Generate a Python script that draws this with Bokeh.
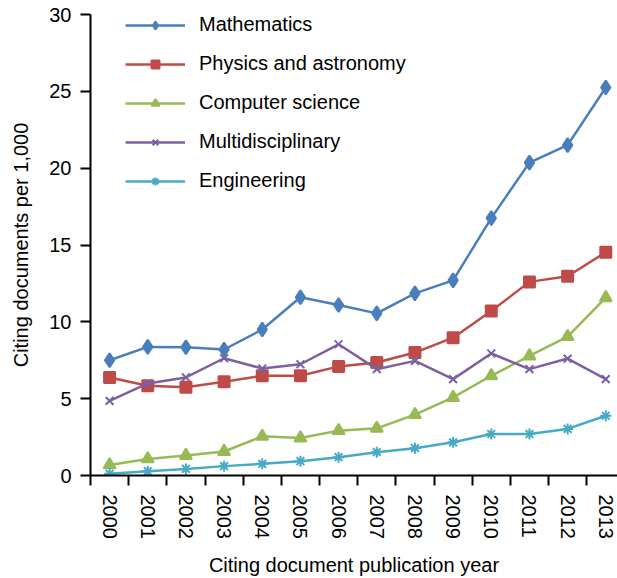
from bokeh.plotting import figure
from bokeh.models import FixedTicker, Range1d, Legend
from bokeh.embed import file_html
from bokeh.resources import INLINE

years = ["2000", "2001", "2002", "2003", "2004", "2005", "2006",
         "2007", "2008", "2009", "2010", "2011", "2012", "2013"]
mathematics = [7.5, 8.37, 8.35, 8.2, 9.5, 11.6, 11.1, 10.55, 11.85, 12.7, 16.75, 20.36, 21.5, 25.25]
physics = [6.38, 5.84, 5.75, 6.1, 6.49, 6.49, 7.1, 7.35, 8.0, 8.97, 10.7, 12.6, 12.97, 14.53]
computer = [0.69, 1.08, 1.3, 1.56, 2.55, 2.44, 2.92, 3.07, 3.96, 5.08, 6.49, 7.78, 9.04, 11.57]
multidisc = [4.86, 5.99, 6.38, 7.63, 6.96, 7.24, 8.54, 6.92, 7.46, 6.27, 7.94, 6.92, 7.61, 6.27]
engineering = [0.11, 0.28, 0.43, 0.61, 0.76, 0.93, 1.19, 1.52, 1.78, 2.16, 2.7, 2.7, 3.03, 3.89]
y_ticks = [0, 5, 10, 15, 20, 25, 30]

FONT = "Liberation Sans"
FS = "20px"

xs = list(range(len(years)))

p = figure(width=617, height=578, output_backend="svg", toolbar_location=None,
           x_range=Range1d(-0.5, 13.307), y_range=Range1d(0, 30),
           min_border_left=90, min_border_top=14, min_border_bottom=101, min_border_right=0)
p.outline_line_color = None
p.xgrid.visible = False
p.ygrid.visible = False

series = [
    ("Mathematics", mathematics, "#4A7EBB", "diamond", 14),
    ("Physics and astronomy", physics, "#BE4B48", "square", 11),
    ("Computer science", computer, "#98B954", "triangle", 12),
    ("Multidisciplinary", multidisc, "#7D60A0", "x", 11),
    ("Engineering", engineering, "#46AAC5", "asterisk", 11),
]

items = []
for name, vals, col, marker, size in series:
    r1 = p.line(xs, vals, line_color=col, line_width=2.5)
    r2 = p.scatter(xs, vals, marker=marker, size=size, fill_color=col, line_color=col, line_width=2)
    items.append((name, [r1, r2]))

legend = Legend(items=items, location=(35, 283))
legend.border_line_color = None
legend.background_fill_alpha = 0
legend.padding = 0
legend.margin = 0
legend.spacing = 16
legend.glyph_width = 60
legend.glyph_height = 20
legend.label_height = 20
legend.label_standoff = 14
legend.label_text_font = FONT
legend.label_text_font_size = FS
legend.label_text_color = "black"
p.add_layout(legend, "center")

# x axis
xa = p.xaxis[0]
xa.ticker = FixedTicker(ticks=xs, minor_ticks=[i - 0.5 for i in range(15)])
xa.major_label_overrides = {i: y for i, y in enumerate(years)}
xa.major_tick_line_color = None
xa.major_tick_out = 10
xa.major_tick_in = 0
xa.minor_tick_out = 10
xa.minor_tick_in = 0
xa.minor_tick_line_color = "black"
xa.minor_tick_line_width = 2
xa.major_label_orientation = "vertical"
xa.major_label_standoff = 9
xa.major_label_text_font = FONT
xa.major_label_text_font_size = FS
xa.major_label_text_color = "black"
xa.axis_line_color = "black"
xa.axis_line_width = 2
xa.axis_label = "Citing document publication year"
xa.axis_label_text_font = FONT
xa.axis_label_text_font_size = FS
xa.axis_label_text_font_style = "normal"
xa.axis_label_text_color = "black"
xa.axis_label_standoff = 12

# y axis
ya = p.yaxis[0]
ya.ticker = FixedTicker(ticks=y_ticks, minor_ticks=[])
ya.major_tick_out = 10
ya.major_tick_in = 0
ya.major_tick_line_width = 2
ya.major_tick_line_color = "black"
ya.minor_tick_line_color = None
ya.major_label_standoff = 9
ya.major_label_text_font = FONT
ya.major_label_text_font_size = FS
ya.major_label_text_color = "black"
ya.axis_line_color = "black"
ya.axis_line_width = 2
ya.axis_label = "Citing documents per 1,000"
ya.axis_label_text_font = FONT
ya.axis_label_text_font_size = FS
ya.axis_label_text_font_style = "normal"
ya.axis_label_text_color = "black"
ya.axis_label_standoff = 14

open("out.html", "w").write(file_html(p, INLINE))
